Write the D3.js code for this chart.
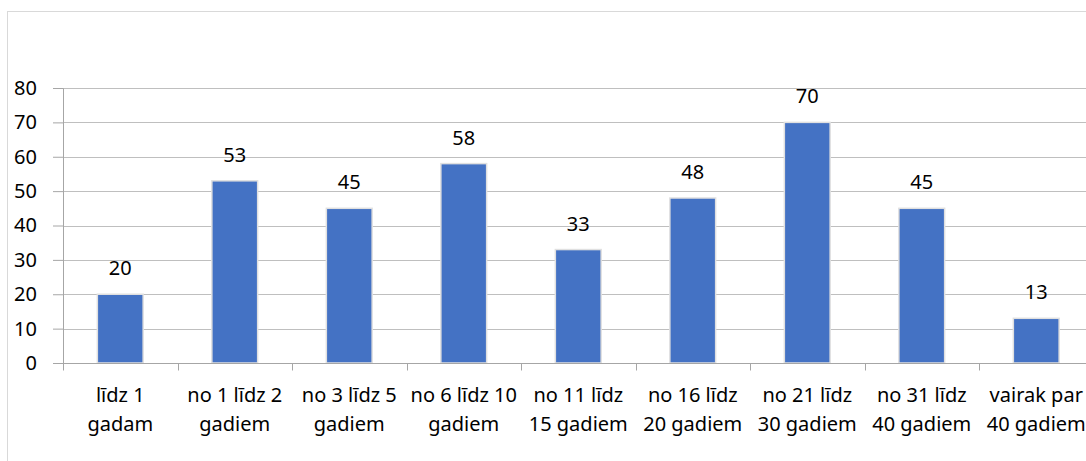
<!DOCTYPE html>
<html>
<head>
<meta charset="utf-8">
<script src="https://cdn.jsdelivr.net/npm/d3@7"></script>
<style>
  body { margin: 0; background: #fff; }
  text { font-family: "Noto Sans", "DejaVu Sans", sans-serif; fill: #000; }
</style>
</head>
<body>
<div id="chart"></div>
<script>
// data
var categories = [
  ["līdz 1", "gadam"],
  ["no 1 līdz 2", "gadiem"],
  ["no 3 līdz 5", "gadiem"],
  ["no 6 līdz 10", "gadiem"],
  ["no 11 līdz", "15 gadiem"],
  ["no 16 līdz", "20 gadiem"],
  ["no 21 līdz", "30 gadiem"],
  ["no 31 līdz", "40 gadiem"],
  ["vairak par", "40 gadiem"]
];
var values = [20, 53, 45, 58, 33, 48, 70, 45, 13];
var yTicks = [0, 10, 20, 30, 40, 50, 60, 70, 80];

var width = 1086, height = 461;
var margin = {left: 63, top: 88, right: -7.5, bottom: 98};
var drawWidth = width - margin.left - margin.right;
var drawHeight = height - margin.top - margin.bottom;

var svg = d3.select("#chart").append("svg")
  .attr("width", width)
  .attr("height", height);

// chart border (right side runs out of the picture)
svg.append("rect")
  .attr("x", 7.5).attr("y", 11.5)
  .attr("width", 1100).attr("height", 460)
  .attr("fill", "none")
  .attr("stroke", "#d9d9d9");

var canvas = svg.append("g")
  .attr("transform", "translate(" + margin.left + "," + margin.top + ")");

var idx = d3.range(values.length);

var x = d3.scaleBand()
  .domain(idx)
  .range([0, drawWidth])
  .paddingInner(0.6)
  .paddingOuter(0.3);

var y = d3.scaleLinear()
  .domain([0, 80])
  .range([drawHeight, 0]);

// gridlines
canvas.append("g")
  .selectAll("line")
  .data(yTicks.filter(function(d){ return d > 0; }))
  .enter().append("line")
    .attr("x1", 0).attr("x2", drawWidth)
    .attr("y1", function(d){ return Math.round(y(d)) + 0.5; })
    .attr("y2", function(d){ return Math.round(y(d)) + 0.5; })
    .attr("stroke", "#bfbfbf");

// bars
canvas.append("g")
  .selectAll("rect")
  .data(values)
  .enter().append("rect")
    .attr("x", function(d, i){ return x(i); })
    .attr("y", function(d){ return y(d); })
    .attr("width", x.bandwidth())
    .attr("height", function(d){ return y(0) - y(d); })
    .attr("fill", "#4472c4")
    .attr("stroke", "#e0e0e0")
    .attr("stroke-width", 1.5);

// value labels
canvas.append("g")
  .selectAll("text")
  .data(values)
  .enter().append("text")
    .attr("x", function(d, i){ return x(i) + x.bandwidth() / 2; })
    .attr("y", function(d){ return y(d) - 19; })
    .attr("text-anchor", "middle")
    .style("font-size", "20px")
    .text(function(d){ return d; });

// y axis
var yAxis = canvas.append("g")
  .call(d3.axisLeft(y).tickValues(yTicks).tickSize(10).tickPadding(16));
yAxis.select(".domain").attr("stroke", "#a6a6a6").attr("d", "M-10,0.5H0.5V" + (drawHeight + 0.5));
yAxis.selectAll(".tick line").attr("stroke", "#a6a6a6");
yAxis.selectAll(".tick text").style("font-size", "20px").attr("fill", "#000");

// x axis
var xAxis = canvas.append("g")
  .attr("transform", "translate(0," + (Math.round(drawHeight) + 0.5) + ")");
xAxis.append("line")
  .attr("x1", 0).attr("x2", drawWidth)
  .attr("stroke", "#a6a6a6");
xAxis.selectAll(".ctick")
  .data(d3.range(values.length + 1))
  .enter().append("line")
    .attr("class", "ctick")
    .attr("x1", function(d){ return Math.round(d * x.step()) + 0.5; })
    .attr("x2", function(d){ return Math.round(d * x.step()) + 0.5; })
    .attr("y1", 0).attr("y2", 7)
    .attr("stroke", "#a6a6a6");

var labels = xAxis.selectAll(".clabel")
  .data(categories)
  .enter().append("text")
    .attr("class", "clabel")
    .attr("text-anchor", "middle")
    .style("font-size", "20px")
    .attr("transform", function(d, i){ return "translate(" + (x(i) + x.bandwidth() / 2) + ",0)"; });
labels.selectAll("tspan")
  .data(function(d){ return d; })
  .enter().append("tspan")
    .attr("x", 0)
    .attr("y", function(d, j){ return 38 + j * 29; })
    .text(function(d){ return d; });
</script>
</body>
</html>
